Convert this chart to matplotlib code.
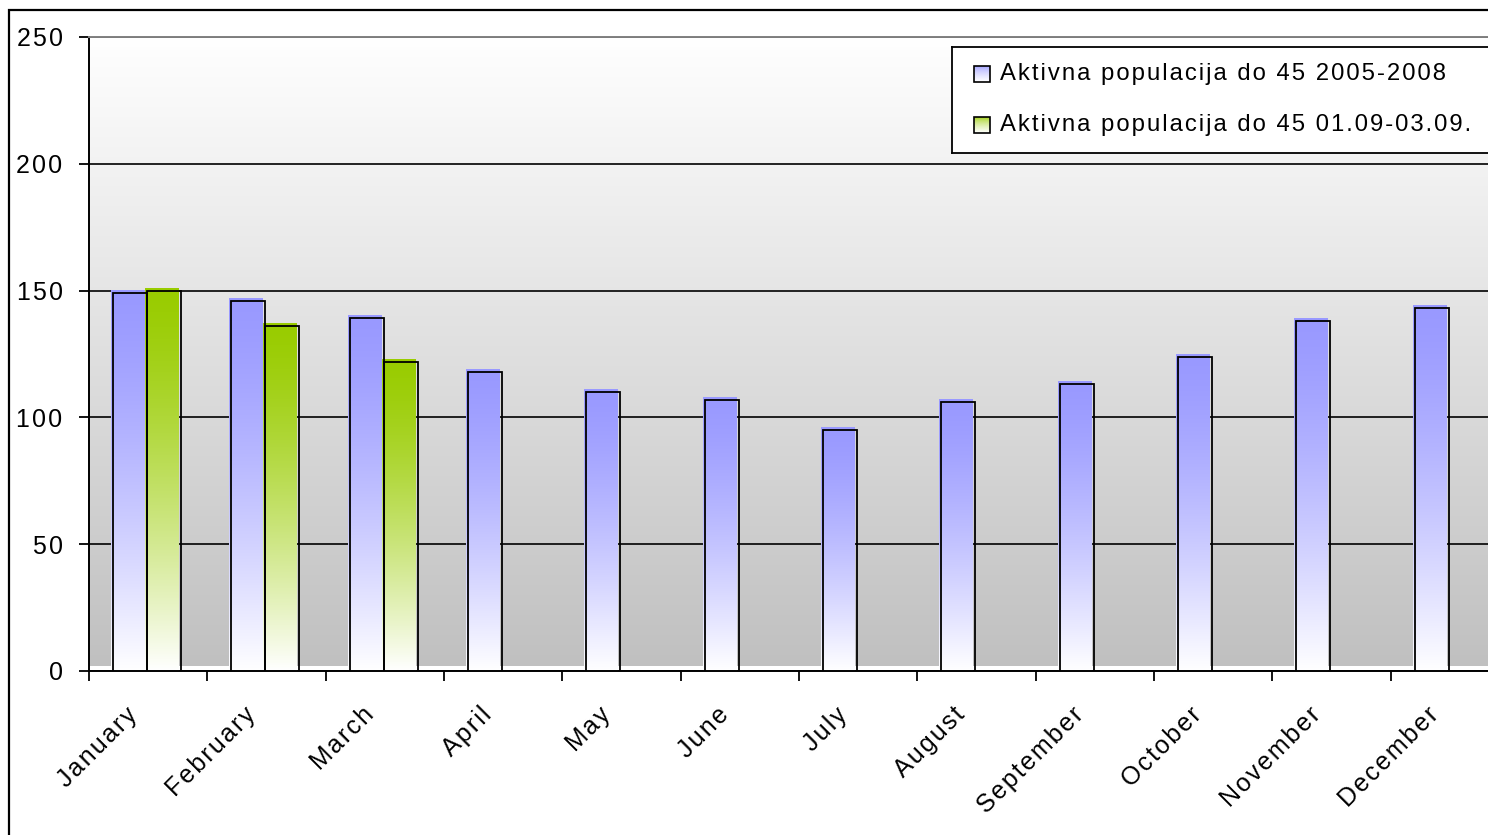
import numpy as np
import matplotlib.pyplot as plt
from matplotlib.colors import to_rgb
from matplotlib.patches import Rectangle
from matplotlib.transforms import ScaledTranslation

months = ["January", "February", "March", "April", "May", "June",
          "July", "August", "September", "October", "November", "December"]
avg_2005_2008 = [150, 147, 140, 119, 111, 108, 96, 107, 114, 125, 139, 144]
first_q_2009 = [151, 137, 123]
series_names = ["Aktivna populacija do 45 2005-2008",
                "Aktivna populacija do 45 01.09-03.09."]
y_ticks = [0, 50, 100, 150, 200, 250]

blue_top = "#9999ff"
green_top = "#99cc00"

plt.rcParams["font.family"] = ["Liberation Sans", "DejaVu Sans"]

W, H = 1488, 835
FS = 18


def track(s):
    # loose letter spacing
    return "\u200a".join(s)


def fade(top_color, n=256, power=1.4):
    # vertical ramp: top colour at row 0, white at the last row
    t = np.linspace(0, 1, n)[:, None]
    mix = t ** power
    top = np.array(to_rgb(top_color))
    rgb = top * (1 - mix) + mix
    return rgb[:, None, :]


fig = plt.figure(figsize=(W / 100, H / 100), dpi=100)
px = fig.dpi_scale_trans

ax = fig.add_axes([89 / W, 164 / H, 1420 / W, 634 / H])

# plot area: white at the top fading to silver
g = np.linspace(1.0, 0.753, 256)[:, None]
ax.imshow(np.dstack([g, g, g]), extent=[-0.5, 11.5, 1.8, 250],
          aspect="auto", origin="upper", zorder=0)

width = 0.287
shift = -0.026
x = np.arange(len(months))
groups = [
    (x + shift - width / 2, avg_2005_2008, blue_top),
    (x[:len(first_q_2009)] + shift + width / 2, first_q_2009, green_top),
]
for xs, vals, col in groups:
    bars = ax.bar(xs, vals, width, fill=False, edgecolor="black",
                  linewidth=1.3, zorder=3)
    for p in bars:
        x0, w, h = p.get_x(), p.get_width(), p.get_height()
        ax.imshow(fade(col), extent=[x0, x0 + w, 0, h], aspect="auto",
                  origin="upper", zorder=2)
        # outline sits a couple of pixels down/right of the fill
        p.set_transform(ax.transData + ScaledTranslation(0.02, -0.025, px))

ax.set_xlim(-0.5, 11.5)
ax.set_ylim(0, 250)

ax.set_yticks(y_ticks, [track(str(v)) for v in y_ticks])
ax.yaxis.grid(True, color="black", linewidth=1.2)
ax.set_axisbelow(True)
ax.tick_params(axis="y", direction="out", length=7, width=1.3, pad=12,
               labelsize=FS)

ax.set_xticks(np.arange(-0.5, 12, 1))
ax.set_xticklabels([])
ax.tick_params(axis="x", which="major", direction="out", length=7, width=1.3)
ax.set_xticks(x, [track(m) for m in months], minor=True)
ax.tick_params(axis="x", which="minor", length=0, pad=29, labelsize=FS)
for lab in ax.get_xticklabels(minor=True):
    lab.set_rotation(45)
    lab.set_ha("right")
    lab.set_va("center")
    lab.set_rotation_mode("anchor")
    lab.set_transform(lab.get_transform() + ScaledTranslation(-0.15, 0, px))

for side in ["left", "bottom"]:
    ax.spines[side].set_color("black")
    ax.spines[side].set_linewidth(1.4)
for side in ["top", "right"]:
    ax.spines[side].set_color("#808080")
    ax.spines[side].set_linewidth(1.4)

# legend drawn in its own pixel-sized axes
lax = fig.add_axes([952 / W, (835 - 153) / H, 600 / W, 106 / H])
lax.set_facecolor("white")
for sp in lax.spines.values():
    sp.set_color("black")
    sp.set_linewidth(1.3)
for yc, name, col in zip([27, 78], series_names, [blue_top, green_top]):
    lax.imshow(fade(col, power=0.6), extent=[22, 38, yc + 8, yc - 8],
               aspect="auto", origin="upper", zorder=2)
    lax.add_patch(Rectangle((22, yc - 8), 16, 16, fill=False,
                            edgecolor="black", linewidth=1.2, zorder=3))
    lax.text(48, yc, track(name), va="center", ha="left", fontsize=17.2)
lax.set_xlim(0, 600)
lax.set_ylim(106, 0)
lax.set_xticks([])
lax.set_yticks([])

# chart border
fig.patches.append(Rectangle((9 / W, -0.1), 2, 1 - 10 / H + 0.1,
                             transform=fig.transFigure, fill=False,
                             edgecolor="black", linewidth=1.6))

fig.savefig("out.png", dpi=100)
